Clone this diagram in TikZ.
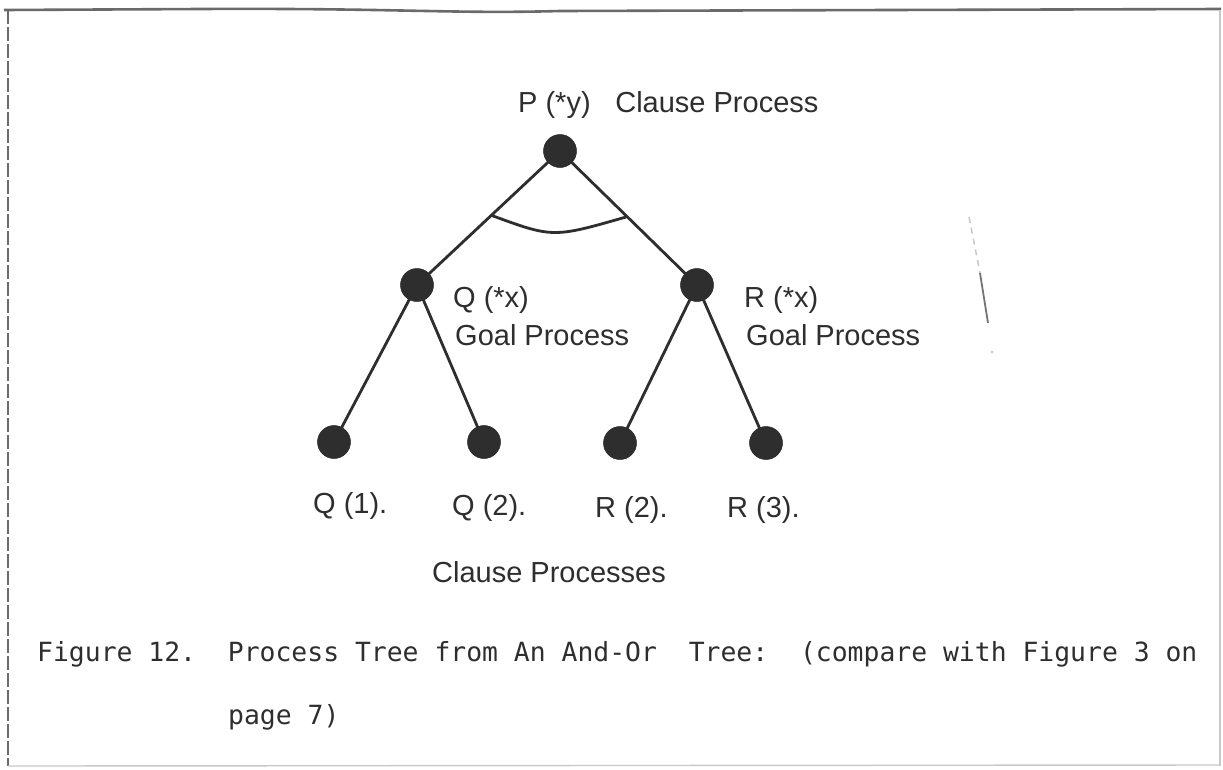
\documentclass[tikz,border=0pt]{standalone}
\usepackage{fontspec}
\usetikzlibrary{calc}
\setmainfont{Liberation Sans}
\newfontfamily\capfont{DejaVu Sans Mono}
\definecolor{ink}{HTML}{2E2E2E}
\definecolor{frame}{HTML}{6A6A6A}
\definecolor{faint}{HTML}{C8C8C8}
\tikzset{
  proc/.style={circle, fill=ink, draw=ink, minimum size=33pt, inner sep=0pt},
  edge/.style={draw=ink, line width=2.8pt},
  lbl/.style={anchor=base west, inner sep=0pt, text=ink, font=\fontsize{29}{34}\selectfont},
  captxt/.style={anchor=base west, inner sep=0pt, text=ink, font=\capfont\fontsize{26.4}{30}\selectfont},
}
\begin{document}
\begin{tikzpicture}[x=1pt, y=-1pt]
\useasboundingbox (0,0) rectangle (1223,769);
\fill[white] (0,0) rectangle (1223,769);
% frame
\draw[frame, line width=2.6pt] (4,10) -- (200,9) .. controls (400,8) and (450,14) .. (560,11) -- (1221,9);
\draw[frame, line width=1.6pt, dash pattern=on 14pt off 3pt] (8,10) -- (8,766);
\draw[faint, line width=1.4pt] (1220,10) -- (1220,766);
\draw[faint, line width=1.4pt] (8,766) -- (1220,765);
% scan mark
\draw[faint, line width=1.5pt, dash pattern=on 6pt off 5pt] (969,217) -- (980,273);
\draw[black!55, line width=1.8pt] (980,273) -- (988,323);
\fill[faint] (992,352) circle (1.5pt);
% nodes
\node[proc] (P) at (560,151) {};
\node[proc] (Q) at (417,285) {};
\node[proc] (R) at (697,285) {};
\node[proc] (Q1) at (334,442) {};
\node[proc] (Q2) at (484,442) {};
\node[proc] (R2) at (620,443) {};
\node[proc] (R3) at (766,443) {};
% edges
\draw[edge] (P.center) -- (Q.center);
\draw[edge] (P.center) -- (R.center);
\draw[edge] (Q.center) -- (Q1.center);
\draw[edge] (Q.center) -- (Q2.center);
\draw[edge] (R.center) -- (R2.center);
\draw[edge] (R.center) -- (R3.center);
% and-arc
\coordinate (a1) at ($(P.center)!0.48!(Q.center)$);
\coordinate (a2) at ($(P.center)!0.49!(R.center)$);
\draw[edge] (a1) .. controls (553,238) .. (a2);
% redraw nodes on top
\foreach \n in {P,Q,R,Q1,Q2,R2,R3} {\fill[ink] (\n) circle (16.5pt);}
% labels
\node[lbl] (tP) at (518,112) {P (*y)\hspace{0.85em}Clause Process};
\node[lbl] (tQ) at (453,307) {Q (*x)};
\node[lbl] (tQg) at (455,345) {Goal Process};
\node[lbl] (tR) at (744,307) {R (*x)};
\node[lbl] (tRg) at (746,345) {Goal Process};
\node[lbl] (l1) at (313,513) {Q (1).};
\node[lbl] (l2) at (452,515) {Q (2).};
\node[lbl] (l3) at (595,517) {R (2).};
\node[lbl] (l4) at (727,517) {R (3).};
\node[lbl] (cp) at (432,582) {Clause Processes};
\node[captxt] (c1) at (37,661) {Figure 12.\ \ Process Tree from An And-Or\ \ Tree:\ \ (compare with Figure 3 on};
\node[captxt] (c2) at (228,724) {page 7)};
\end{tikzpicture}
\end{document}
